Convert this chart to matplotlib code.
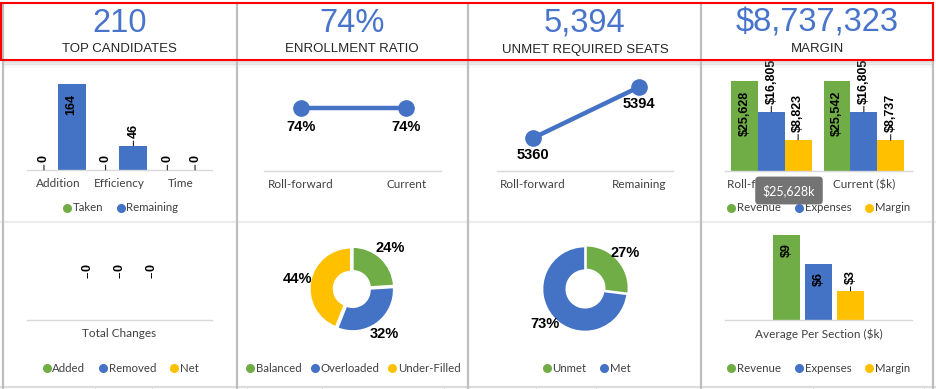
import matplotlib
matplotlib.use("Agg")
import matplotlib.pyplot as plt
from matplotlib.lines import Line2D
from matplotlib.patches import Rectangle

# ---- data ----
kpi_values = ["210", "74%", "5,394", "$8,737,323"]
kpi_labels = ["TOP CANDIDATES", "ENROLLMENT RATIO", "UNMET REQUIRED SEATS", "MARGIN"]

pipe_cats = ["Addition", "Efficiency", "Time"]
taken = [0, 0, 0]
remaining = [164, 46, 0]

ratio_cats = ["Roll-forward", "Current"]
ratio_vals = [0.74, 0.74]

seats_cats = ["Roll-forward", "Remaining"]
seats_vals = [5360, 5394]

fin_cats = ["Roll-forward ($k)", "Current ($k)"]
revenue_k = [25628, 25542]
expenses_k = [16805, 16805]
margin_k = [8823, 8737]

change_cats = ["Total Changes"]
change_names = ["Added", "Removed", "Net"]
change_vals = [0, 0, 0]

load_names = ["Balanced", "Overloaded", "Under-Filled"]
load_pct = [24, 32, 44]

unmet_names = ["Unmet", "Met"]
unmet_pct = [27, 73]

avg_cats = ["Average Per Section ($k)"]
avg_names = ["Revenue", "Expenses", "Margin"]
avg_vals = [8.8, 5.8, 3.0]

GREEN = "#70AD47"
BLUE = "#4472C4"
GOLD = "#FFC000"
CAT_FONT = "Lato"
LBL_FONT = ["Liberation Sans Narrow", "Liberation Sans"]

W, H = 937, 389
fig = plt.figure(figsize=(W / 100, H / 100), dpi=100)
fig.patch.set_facecolor("white")


def fx(x):
    return x / W


def fy(y):
    return 1 - y / H


def px_axes(x0, y0, x1, y1):
    return fig.add_axes([x0 / W, 1 - y1 / H, (x1 - x0) / W, (y1 - y0) / H])


def style_cat_axis(ax, ticks, labels):
    for s in ["top", "right", "left"]:
        ax.spines[s].set_visible(False)
    ax.spines["bottom"].set_color("#d9d9d9")
    ax.spines["bottom"].set_linewidth(1.0)
    ax.set_yticks([])
    ax.set_xticks(ticks)
    ax.set_xticklabels(labels, family=CAT_FONT, fontsize=8.5, color="#404040")
    ax.tick_params(axis="x", length=0, pad=6)
    ax.patch.set_alpha(0)


def label_out(ax, x, y, s, lead=5.5):
    ax.annotate(s, (x, y), xytext=(0, lead), textcoords="offset points",
                rotation=90, ha="center", va="bottom", fontsize=9,
                fontweight="bold", family=LBL_FONT, annotation_clip=False,
                arrowprops=dict(arrowstyle="-", color="black", lw=0.7,
                                shrinkA=0, shrinkB=0))


def label_in(ax, x, y, s, gap=7):
    ax.annotate(s, (x, y), xytext=(0, -gap), textcoords="offset points",
                rotation=90, ha="center", va="top", fontsize=9,
                fontweight="bold", family=LBL_FONT)


def legend(names, colors, cx, cy, spacing=1.1):
    handles = [Line2D([], [], ls="", marker="o", ms=5.5, color=c, label=n)
               for n, c in zip(names, colors)]
    fig.legend(handles=handles, loc="center", bbox_to_anchor=(fx(cx), fy(cy)),
               ncol=len(handles), frameon=False, handletextpad=0.05,
               handlelength=0.9, columnspacing=spacing, borderpad=0,
               prop=dict(family=CAT_FONT, size=8.2), labelcolor="#404040")


# ---- row 1, panel 1: pipeline bars ----
ax = px_axes(27, 75, 212, 170)
xs = range(len(pipe_cats))
bw = 0.45
ax.bar([i - bw / 2 for i in xs], taken, bw, color=GREEN)
ax.bar([i + bw / 2 for i in xs], remaining, bw, color=BLUE)
ax.set_xlim(-0.5, 2.5)
ax.set_ylim(0, 181)
style_cat_axis(ax, list(xs), pipe_cats)
for i in xs:
    label_out(ax, i - bw / 2, taken[i], str(taken[i]))
    if remaining[i] > 100:
        label_in(ax, i + bw / 2, remaining[i], str(remaining[i]))
    else:
        label_out(ax, i + bw / 2, remaining[i], str(remaining[i]))
legend(["Taken", "Remaining"], [GREEN, BLUE], 120, 208)

# ---- row 1, panel 2: enrollment ratio ----
ax = px_axes(264, 75, 441, 171)
ax.plot(range(2), ratio_vals, color=BLUE, lw=3.2, marker="o", ms=11)
ax.set_xlim(-0.35, 1.33)
ax.set_ylim(0, 1.13)
style_cat_axis(ax, [0, 1], ratio_cats)
for i, v in enumerate(ratio_vals):
    ax.annotate(f"{v:.0%}", (i, v), xytext=(0, -13.5), textcoords="offset points",
                ha="center", va="center", fontsize=10.5, fontweight="bold",
                family=LBL_FONT)

# ---- row 1, panel 3: unmet seats ----
ax = px_axes(497, 75, 673, 171)
ax.plot(range(2), seats_vals, color=BLUE, lw=3.2, marker="o", ms=11)
ax.set_xlim(-0.34, 1.32)
ax.set_ylim(5338, 5402)
style_cat_axis(ax, [0, 1], seats_cats)
for i, v in enumerate(seats_vals):
    ax.annotate(str(v), (i, v), xytext=(0, -12.5), textcoords="offset points",
                ha="center", va="center", fontsize=10.5, fontweight="bold",
                family=LBL_FONT)

# ---- row 1, panel 4: financials ----
ax = px_axes(725, 75, 912, 171)
fw = 0.29
series = [(revenue_k, GREEN), (expenses_k, BLUE), (margin_k, GOLD)]
for k, (vals, col) in enumerate(series):
    pos = [i + (k - 1) * fw for i in range(len(fin_cats))]
    ax.bar(pos, vals, fw, color=col)
    for p, v in zip(pos, vals):
        if k == 0:
            label_in(ax, p, v, f"${v:,.0f}")
        else:
            label_out(ax, p, v, f"${v:,.0f}", lead=6)
ax.set_xlim(-0.5, 1.52)
ax.set_ylim(0, 27300)
style_cat_axis(ax, [0, 1], fin_cats)
legend(["Revenue", "Expenses", "Margin"], [GREEN, BLUE, GOLD], 818, 208)

# ---- row 2, panel 1: total changes ----
ax = px_axes(27, 228, 212, 320)
cw = 0.173
for k, (v, col) in enumerate(zip(change_vals, [GREEN, BLUE, GOLD])):
    ax.bar((k - 1) * cw, v, cw, color=col)
    label_out(ax, (k - 1) * cw, v, str(v))
ax.set_xlim(-0.5, 0.5)
ax.set_ylim(-1, 1.2)
style_cat_axis(ax, [0], change_cats)
legend(change_names, [GREEN, BLUE, GOLD], 120, 368)

# ---- row 2, panel 2: load donut ----
r1 = 41
ax = px_axes(352 - 1.25 * r1, 289 - 1.25 * r1, 352 + 1.25 * r1, 289 + 1.25 * r1)
ax.pie(load_pct, colors=[GREEN, BLUE, GOLD], startangle=90, counterclock=False,
       explode=[0.03] * 3, autopct="%d%%", pctdistance=1.33,
       wedgeprops=dict(width=0.58, edgecolor="white", linewidth=1.2),
       textprops=dict(fontsize=10.5, fontweight="bold", family=LBL_FONT))
ax.set_xlim(-1.25, 1.25)
ax.set_ylim(-1.25, 1.25)
legend(load_names, [GREEN, BLUE, GOLD], 353, 368, spacing=0.7)

# ---- row 2, panel 3: unmet donut ----
r2 = 42.5
ax = px_axes(585 - 1.25 * r2, 289 - 1.25 * r2, 585 + 1.25 * r2, 289 + 1.25 * r2)
ax.pie(unmet_pct, colors=[GREEN, BLUE], startangle=90, counterclock=False,
       explode=[0.03, 0], autopct="%d%%", pctdistance=1.24,
       wedgeprops=dict(width=0.56, edgecolor="white", linewidth=1.2),
       textprops=dict(fontsize=10.5, fontweight="bold", family=LBL_FONT))
ax.set_xlim(-1.25, 1.25)
ax.set_ylim(-1.25, 1.25)
legend(unmet_names, [GREEN, BLUE], 586, 368)

# ---- row 2, panel 4: average per section ----
ax = px_axes(725, 228, 912, 320)
aw = 0.144
ao = 0.171
for k, (v, col) in enumerate(zip(avg_vals, [GREEN, BLUE, GOLD])):
    ax.bar((k - 1) * ao, v, aw, color=col)
    if v > 5:
        label_in(ax, (k - 1) * ao, v, f"${v:.0f}", gap=6)
    else:
        label_out(ax, (k - 1) * ao, v, f"${v:.0f}", lead=5)
ax.set_xlim(-0.5, 0.5)
ax.set_ylim(0, 9.5)
style_cat_axis(ax, [0], avg_cats)
legend(avg_names, [GREEN, BLUE, GOLD], 818, 368)

# ---- frame / header decorations ----
fig.patches.append(Rectangle((0, fy(61)), 1, 1 - fy(61), transform=fig.transFigure,
                             fc="white", ec="none", zorder=5))
for i, a in enumerate([0.35, 0.22, 0.12, 0.06]):
    fig.add_artist(Line2D([fx(3), fx(933)], [fy(62 + 1.5 * i)] * 2, color="#999999",
                          alpha=a, lw=1.2, zorder=5))
fig.add_artist(Line2D([0, 1], [fy(222)] * 2, color="#ececec", lw=1.6, zorder=4))
fig.add_artist(Line2D([0, 1], [fy(386.5)] * 2, color="#dcdcdc", lw=1.6, zorder=4))
for x in [95, 152, 247, 322, 444, 536, 596, 813, 924]:
    fig.add_artist(Line2D([fx(x)] * 2, [fy(387), 0], color="#dcdcdc", lw=0.8, zorder=4))
for x in [3, 236.5, 468, 701.5, 933]:
    fig.add_artist(Line2D([fx(x)] * 2, [fy(3), 0], color="#bfbfbf", lw=1.6, zorder=6))
fig.patches.append(Rectangle((fx(1.5), fy(60)), fx(931.5), fy(3) - fy(60),
                             transform=fig.transFigure, fc="none", ec="#ff0000",
                             lw=1.5, zorder=7))

centers = [119.5, 352, 585, 817.5]
for cx, v, lab in zip(centers, kpi_values, kpi_labels):
    fig.text(fx(cx), fy(23.5), v, ha="center", va="center", fontsize=23.5,
             family="Liberation Sans", color="#4874CB", zorder=8)
    fig.text(fx(cx), fy(49.5), lab, ha="center", va="center", fontsize=9.5,
             family="Liberation Sans", color="#262626", zorder=8)

# hover tooltip present in the screenshot
fig.text(fx(789), fy(190.5), "$25,628k", ha="center", va="center", fontsize=9,
         family=CAT_FONT, color="white", zorder=9,
         bbox=dict(boxstyle="round,pad=0.6,rounding_size=0.3", fc="#737373", ec="none"))

fig.savefig("out.png", dpi=100, facecolor="white")
